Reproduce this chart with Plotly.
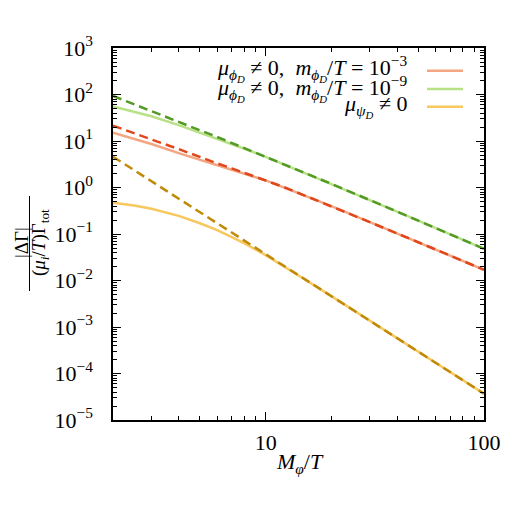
import plotly.graph_objects as go

# x values (M_phi / T)
x_vals = [2, 2.5, 3, 4, 5, 6, 7, 8, 10, 12, 15, 20, 30, 50, 70, 100]

# mu_phiD != 0, m/T = 1e-3
red_solid = [15, 11.0, 8.6, 5.5, 3.95, 3.05, 2.45, 2.02, 1.42, 1.02, 0.675, 0.397, 0.18, 0.0665, 0.0343, 0.017]
red_dashed = [21.4, 14.4, 10.8, 6.7, 4.5, 3.3, 2.58, 2.07, 1.45, 1.04, 0.68, 0.397, 0.18, 0.0665, 0.0343, 0.017]

# mu_phiD != 0, m/T = 1e-9
green_solid = [55, 42, 34, 22, 15.2, 11.2, 8.6, 6.8, 4.55, 3.2, 2.12, 1.2, 0.537, 0.193, 0.0993, 0.048]
green_dashed = [93, 61, 44, 25.8, 17, 12.2, 9.1, 7.1, 4.6, 3.22, 2.12, 1.2, 0.537, 0.193, 0.0993, 0.048]

# mu_psiD != 0
orange_solid = [0.47, 0.41, 0.35, 0.245, 0.17, 0.121, 0.086, 0.063, 0.035, 0.021, 0.0108, 0.0046, 0.00136, 2.94e-4, 1.07e-4, 3.68e-5]
orange_dashed = [4.6, 2.36, 1.36, 0.575, 0.294, 0.17, 0.107, 0.0719, 0.0368, 0.0213, 0.0109, 0.0046, 0.00136, 2.94e-4, 1.07e-4, 3.68e-5]

legend_labels = [
    "<i>μ</i><sub><i>ϕ<sub>D</sub></i></sub> ≠ 0,  <i>m</i><sub><i>ϕ<sub>D</sub></i></sub>/<i>T</i> = 10<sup>−3</sup>",
    "<i>μ</i><sub><i>ϕ<sub>D</sub></i></sub> ≠ 0,  <i>m</i><sub><i>ϕ<sub>D</sub></i></sub>/<i>T</i> = 10<sup>−9</sup>",
    "<i>μ</i><sub><i>ψ<sub>D</sub></i></sub> ≠ 0",
]
y_tick_vals = [1e-5, 1e-4, 1e-3, 1e-2, 1e-1, 1, 10, 100, 1000]
y_tick_text = ["10<sup>−5</sup>", "10<sup>−4</sup>", "10<sup>−3</sup>", "10<sup>−2</sup>",
               "10<sup>−1</sup>", "10<sup>0</sup>", "10<sup>1</sup>", "10<sup>2</sup>", "10<sup>3</sup>"]
x_tick_vals = [10, 100]
x_tick_text = ["10", "100"]

C_RED_L, C_RED_D = "#f4a582", "#e0481c"
C_GRN_L, C_GRN_D = "#b8e186", "#539a26"
C_ORG_L, C_ORG_D = "#f6c85f", "#c08a08"

FONT = "Liberation Serif"
W, H = 517, 508
L, R, T, B = 113, 33, 48, 88
pw, ph = W - L - R, H - T - B

def px(xp):
    return (xp - L) / pw

def py(yp):
    return (H - B - yp) / ph

fig = go.Figure()
for ys, c in [(red_solid, C_RED_L), (green_solid, C_GRN_L), (orange_solid, C_ORG_L)]:
    fig.add_trace(go.Scatter(x=x_vals, y=ys, mode="lines",
                             line=dict(color=c, width=2.5),
                             showlegend=False))
for ys, c in [(red_dashed, C_RED_D), (green_dashed, C_GRN_D), (orange_dashed, C_ORG_D)]:
    fig.add_trace(go.Scatter(x=x_vals, y=ys, mode="lines",
                             line=dict(color=c, width=2.5, dash="9px,5px"),
                             showlegend=False))

axis_common = dict(type="log", showline=True, linecolor="black", linewidth=1.5,
                   mirror="ticks", ticks="inside", tickcolor="black", tickwidth=1,
                   showgrid=False, zeroline=False,
                   tickfont=dict(family=FONT, size=22, color="black"))

fig.update_xaxes(range=[0.30103, 2], tickvals=x_tick_vals, ticktext=x_tick_text, ticklen=8,
                 ticklabelstandoff=2,
                 minor=dict(ticks="inside", ticklen=4, tickcolor="black", tickwidth=1,
                            tickvals=[3, 4, 5, 6, 7, 8, 9, 20, 30, 40, 50, 60, 70, 80, 90]),
                 **axis_common)
fig.update_yaxes(range=[-5, 3], tickvals=y_tick_vals, ticktext=y_tick_text, ticklen=8,
                 ticklabelstandoff=14,
                 minor=dict(ticks="inside", ticklen=4, tickcolor="black", tickwidth=1,
                            tickvals=[m * 10 ** e for e in range(-5, 3) for m in range(2, 10)]),
                 **axis_common)

annotations = []
shapes = []
# legend
leg_y = [69, 88, 106]
leg_line_y = [70.7, 89, 106.7]
leg_c = [C_RED_L, C_GRN_L, C_ORG_L]
for lab, yy, ly, c in zip(legend_labels, leg_y, leg_line_y, leg_c):
    annotations.append(dict(x=px(409), y=py(yy), xref="paper", yref="paper", text=lab,
                            showarrow=False, xanchor="right", yanchor="middle",
                            font=dict(family=FONT, size=22, color="black")))
    shapes.append(dict(type="line", xref="paper", yref="paper", x0=px(427), x1=px(463),
                       y0=py(ly), y1=py(ly), line=dict(color=c, width=2.5)))

# x title
annotations.append(dict(x=px(300), y=py(463), xref="paper", yref="paper",
                        text="<i>M</i><sub><i>φ</i></sub>/<i>T</i>", showarrow=False,
                        xanchor="center", yanchor="middle",
                        font=dict(family=FONT, size=22, color="black")))
# y title as fraction
annotations.append(dict(x=px(21), y=py(243), xref="paper", yref="paper", text="|ΔΓ|",
                        showarrow=False, textangle=-90, xanchor="center", yanchor="middle",
                        font=dict(family=FONT, size=19, color="black")))
annotations.append(dict(x=px(40), y=py(243), xref="paper", yref="paper",
                        text="(<i>μ<sub>i</sub></i>/<i>T</i>)Γ<sub>tot</sub>",
                        showarrow=False, textangle=-90, xanchor="center", yanchor="middle",
                        font=dict(family=FONT, size=19, color="black")))
shapes.append(dict(type="line", xref="paper", yref="paper", x0=px(29.5), x1=px(29.5),
                   y0=py(196), y1=py(291), line=dict(color="black", width=1)))

fig.update_layout(width=W, height=H, margin=dict(l=L, r=R, t=T, b=B),
                  plot_bgcolor="white", paper_bgcolor="white",
                  annotations=annotations, shapes=shapes, showlegend=False)

fig.write_html("out.html")
